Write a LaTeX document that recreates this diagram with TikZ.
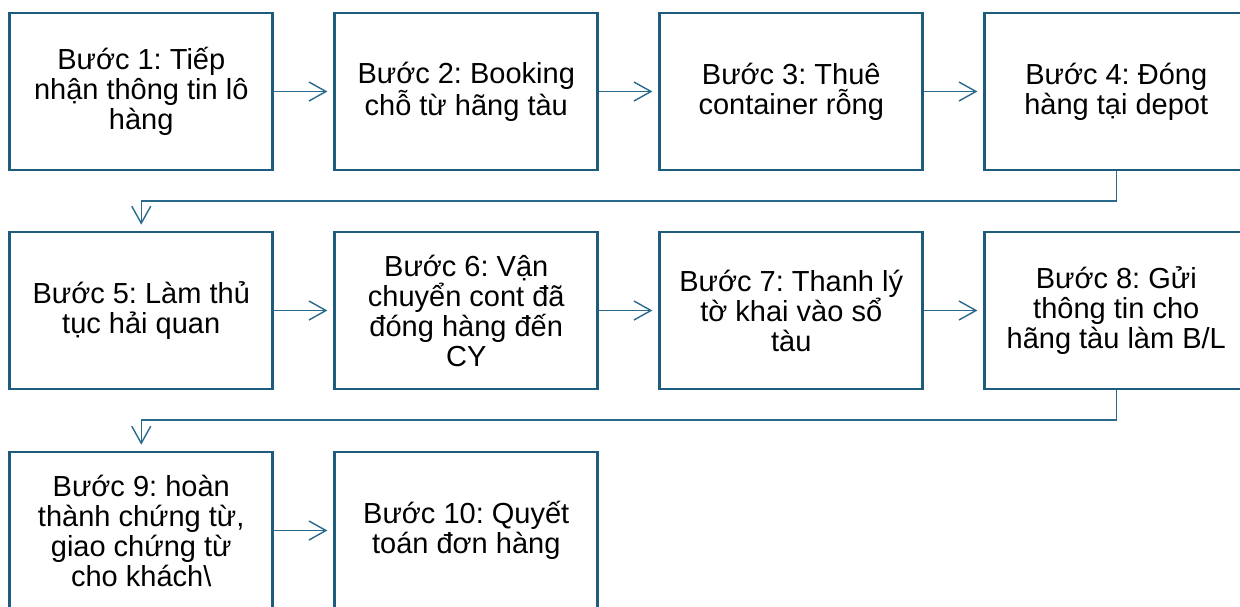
\documentclass[tikz,border=0pt]{standalone}
\usepackage{fontspec}
\setmainfont{Liberation Sans}
\frenchspacing
\usetikzlibrary{arrows.meta}
\definecolor{boxc}{RGB}{30,92,126}
\definecolor{arrc}{RGB}{40,105,140}
\tikzset{
  stepbox/.style={draw=boxc, line width=2.7pt, fill=white, minimum width=263pt, minimum height=157pt,
    inner sep=0pt, align=center, font=\fontsize{29pt}{30pt}\selectfont, text=black},
  conn/.style={draw=arrc, line width=1.4pt, -{Straight Barb[length=17pt,width=19pt,line width=1.4pt]}, shorten >=6pt}
}
\begin{document}
\begin{tikzpicture}[x=1pt,y=-1pt]
\useasboundingbox (0,0) rectangle (1240,606);
\node[stepbox] (s1) at (141.25,91.5) {Bước 1: Tiếp\\nhận thông tin lô\\hàng};
\node[stepbox] (s2) at (466.25,91.5) {Bước 2: Booking\\chỗ từ hãng tàu};
\node[stepbox] (s3) at (791.25,91.5) {Bước 3: Thuê\\container rỗng};
\node[stepbox] (s4) at (1116.25,91.5) {Bước 4: Đóng\\hàng tại depot};
\node[stepbox] (s5) at (141.25,310.5) {Bước 5: Làm thủ\\tục hải quan};
\node[stepbox] (s6) at (466.25,310.5) {Bước 6: Vận\\chuyển cont đã\\đóng hàng đến\\CY};
\node[stepbox] (s7) at (791.25,310.5) {Bước 7: Thanh lý\\tờ khai vào sổ\\tàu};
\node[stepbox] (s8) at (1116.25,310.5) {Bước 8: Gửi\\thông tin cho\\hãng tàu làm B/L};
\node[stepbox] (s9) at (141.25,530.5) {Bước 9: hoàn\\thành chứng từ,\\giao chứng từ\\cho khách\textbackslash};
\node[stepbox] (s10) at (466.25,530.5) {Bước 10: Quyết\\toán đơn hàng};
\draw[conn] (s1.east) -- (s2.west);
\draw[conn] (s2.east) -- (s3.west);
\draw[conn] (s3.east) -- (s4.west);
\draw[conn] (s5.east) -- (s6.west);
\draw[conn] (s6.east) -- (s7.west);
\draw[conn] (s7.east) -- (s8.west);
\draw[conn] (s9.east) -- (s10.west);
\draw[conn] (s4.south) -- ++(0,29.5) -| (s5.north);
\draw[conn] (s8.south) -- ++(0,29.5) -| (s9.north);
\end{tikzpicture}
\end{document}
